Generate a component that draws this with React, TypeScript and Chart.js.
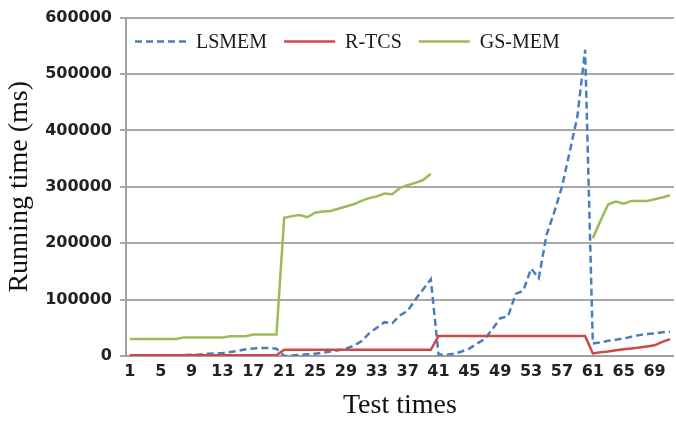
import { useEffect, useRef } from 'react';
import { Chart, registerables } from 'chart.js';

Chart.register(...registerables);

// Test run index (x categories)
const testTimes = [
  '1', '2', '3', '4', '5', '6', '7', '8', '9', '10',
  '11', '12', '13', '14', '15', '16', '17', '18', '19', '20',
  '21', '22', '23', '24', '25', '26', '27', '28', '29', '30',
  '31', '32', '33', '34', '35', '36', '37', '38', '39', '40',
  '41', '42', '43', '44', '45', '46', '47', '48', '49', '50',
  '51', '52', '53', '54', '55', '56', '57', '58', '59', '60',
  '61', '62', '63', '64', '65', '66', '67', '68', '69', '70',
  '71',
];

// Running time in ms
const lsmem = [
  0, 0, 0, 0, 0, 500, 1000, 1500, 2000, 2500,
  4000, 4500, 5000, 7000, 9000, 12000, 13500, 14000, 14000, 13000,
  0, 1000, 2000, 3000, 4000, 6000, 8000, 10000, 13000, 18000,
  26000, 40000, 50000, 60000, 58000, 72000, 80000, 100000, 118000, 136000,
  3000, 2000, 4000, 8000, 13000, 22000, 30000, 48000, 67000, 70000,
  110000, 116000, 155000, 138000, 215000, 255000, 300000, 362000, 425000, 543000,
  22000, 24000, 27000, 29000, 31000, 34000, 37000, 39000, 40000, 42000,
  43000,
];

const rtcs = [
  1500, 1500, 1500, 1500, 1500, 1500, 1500, 1500, 1500, 1500,
  1500, 1500, 1500, 1500, 1500, 1500, 1500, 1500, 1500, 1500,
  11000, 11000, 11000, 11000, 11000, 11000, 11000, 11000, 11000, 11000,
  11000, 11000, 11000, 11000, 11000, 11000, 11000, 11000, 11000, 11000,
  35500, 35500, 35500, 35500, 35500, 35500, 35500, 35500, 35500, 35500,
  35500, 35500, 35500, 35500, 35500, 35500, 35500, 35500, 35500, 35500,
  4500, 6500, 8000, 10000, 12000, 13500, 15000, 17000, 19000, 25000,
  30000,
];

const gsmem = [
  30000, 30000, 30000, 30000, 30000, 30000, 30000, 33000, 33000, 33000,
  33000, 33000, 33000, 35000, 35000, 35000, 38000, 38000, 38000, 38000,
  245000, 248000, 250000, 246000, 254000, 256000, 257000, 261000, 265000, 269000,
  275000, 280000, 283000, 288000, 287000, 298000, 303000, 307000, 312000, 323000,
  null, null, null, null, null, null, null, null, null, null,
  null, null, null, null, null, null, null, null, null, null,
  209000, 240000, 269000, 274000, 270000, 275000, 275000, 275000, 278000, 281000,
  285000,
];

const yMin = 0;
const yMax = 600000;
const yStep = 100000;

const tickFont = { family: '"DejaVu Sans"', size: 16, weight: 'bold' as const };
const titleFont = { family: '"Liberation Serif"', size: 28 };

// Legend row drawn inside the top of the plot area
const legendInPlot = {
  id: 'legendInPlot',
  afterDatasetsDraw(chart: any) {
    const { ctx, chartArea } = chart;
    ctx.save();
    ctx.font = '20px "Liberation Serif"';
    ctx.textBaseline = 'middle';
    ctx.textAlign = 'left';
    let x = chartArea.left + 9;
    const y = chartArea.top + 24;
    chart.data.datasets.forEach((ds: any) => {
      ctx.beginPath();
      ctx.setLineDash(ds.borderDash || []);
      ctx.lineWidth = ds.borderWidth;
      ctx.strokeStyle = ds.borderColor;
      ctx.moveTo(x, y);
      ctx.lineTo(x + 51, y);
      ctx.stroke();
      ctx.setLineDash([]);
      ctx.fillStyle = '#1a1a1a';
      ctx.fillText(ds.label, x + 61, y + 1);
      x += 61 + ctx.measureText(ds.label).width + 17;
    });
    ctx.restore();
  },
};

export default function App() {
  const canvasRef = useRef<HTMLCanvasElement | null>(null);

  useEffect(() => {
    if (!canvasRef.current) return;
    const chart = new Chart(canvasRef.current, {
      type: 'line',
      data: {
        labels: testTimes,
        datasets: [
          {
            label: 'LSMEM',
            data: lsmem,
            borderColor: '#4a7ebb',
            borderWidth: 2.5,
            borderDash: [7, 4],
            pointRadius: 0,
            tension: 0,
            order: 3,
          },
          {
            label: 'R-TCS',
            data: rtcs,
            borderColor: '#c94a47',
            borderWidth: 2.5,
            pointRadius: 0,
            tension: 0,
            order: 2,
          },
          {
            label: 'GS-MEM',
            data: gsmem,
            borderColor: '#9bbb59',
            borderWidth: 2.5,
            pointRadius: 0,
            tension: 0,
            spanGaps: false,
            order: 1,
          },
        ],
      },
      options: {
        animation: false,
        responsive: false,
        layout: { padding: { top: 14, right: 1, left: 0, bottom: 0 } },
        plugins: {
          legend: { display: false },
          tooltip: { enabled: false },
        },
        scales: {
          x: {
            offset: true,
            grid: { display: false, drawTicks: false },
            border: { display: true, color: '#a0a0a0', width: 2 },
            ticks: {
              autoSkip: false,
              maxRotation: 0,
              minRotation: 0,
              padding: 6,
              color: '#222',
              font: tickFont,
              callback: (_v: any, i: number) => (i % 4 === 0 ? testTimes[i] : ''),
            },
            title: {
              display: true,
              text: 'Test times',
              color: '#111',
              font: titleFont,
              padding: { top: 0, bottom: 0 },
            },
            afterFit: (s: any) => {
              s.height = 66;
            },
          },
          y: {
            min: yMin,
            max: yMax,
            grid: { color: '#a8a8a8', lineWidth: 2, tickLength: 6, drawTicks: true },
            border: { display: true, color: '#a0a0a0', width: 2 },
            ticks: {
              stepSize: yStep,
              padding: 8,
              color: '#222',
              font: tickFont,
              callback: (v: any) => String(v),
            },
            title: {
              display: true,
              text: 'Running time (ms)',
              color: '#111',
              font: titleFont,
              padding: { top: 3, bottom: 0 },
            },
            afterFit: (s: any) => {
              s.width = 126;
            },
          },
        },
      },
      plugins: [legendInPlot],
    });
    return () => chart.destroy();
  }, []);

  return (
    <div style={{ position: 'absolute', left: 0, top: 0, width: 676, height: 422, background: '#fff' }}>
      <canvas ref={canvasRef} width={676} height={422} />
    </div>
  );
}
